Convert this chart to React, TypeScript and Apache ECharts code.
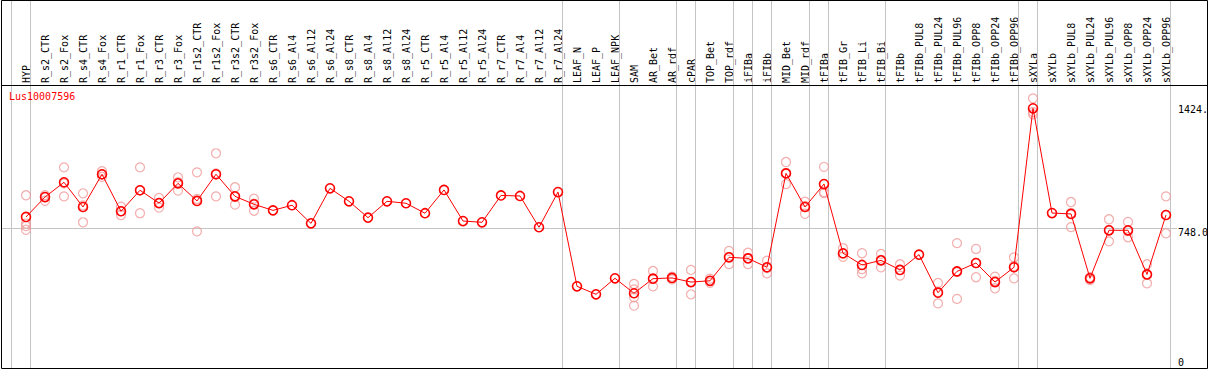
import React, { useEffect, useRef } from "react";
import * as echarts from "echarts";

const geneId = "Lus10007596";

const categories = [
  "HYP", "R_s2_CTR", "R_s2_Fox", "R_s4_CTR", "R_s4_Fox", "R_r1_CTR", "R_r1_Fox",
  "R_r3_CTR", "R_r3_Fox", "R_r1s2_CTR", "R_r1s2_Fox", "R_r3s2_CTR", "R_r3s2_Fox",
  "R_s6_CTR", "R_s6_Al4", "R_s6_Al12", "R_s6_Al24", "R_s8_CTR", "R_s8_Al4",
  "R_s8_Al12", "R_s8_Al24", "R_r5_CTR", "R_r5_Al4", "R_r5_Al12", "R_r5_Al24",
  "R_r7_CTR", "R_r7_Al4", "R_r7_Al12", "R_r7_Al24", "LEAF_N", "LEAF_P", "LEAF_NPK",
  "SAM", "AR_Bet", "AR_rdf", "cPAR", "TOP_Bet", "TOP_rdf", "iFIBa", "iFIBb",
  "MID_Bet", "MID_rdf", "tFIBa", "tFIB_Gr", "tFIB_Li", "tFIB_Bi", "tFIBb",
  "tFIBb_PUL8", "tFIBb_PUL24", "tFIBb_PUL96", "tFIBb_OPP8", "tFIBb_OPP24", "tFIBb_OPP96",
  "sXYLa", "sXYLb", "sXYLb_PUL8", "sXYLb_PUL24", "sXYLb_PUL96", "sXYLb_OPP8",
  "sXYLb_OPP24", "sXYLb_OPP96",
];

const meanValues = [
  813, 925, 1008, 869, 1053, 845, 963, 891, 1002, 903, 1053, 929, 884,
  850, 879, 777, 974, 901, 809, 901, 890, 834, 965, 790, 783, 934, 931, 755, 953,
  423, 378, 468,
  384, 466, 470, 447, 454, 586, 580, 530, 1058, 869, 998, 609, 543, 569,
  515, 601, 387, 507, 554, 447, 530,
  1424, 835, 830, 468, 738, 738, 490, 824,
];

const replicateValues: number[][] = [
  [935, 776, 762, 741], [936, 904, 925], [1092, 929, 1002], [946, 783, 878],
  [1071, 1053, 1039], [871, 824, 846], [1092, 834, 964], [920, 865, 891],
  [1036, 961, 1009], [1064, 732, 914], [1171, 929, 1058], [980, 882, 925],
  [916, 848, 888],
  [], [], [], [], [], [], [], [], [], [], [], [], [], [], [], [],
  [], [], [],
  [436, 406, 361, 314], [509, 423, 464], [477, 462, 470], [515, 378, 447],
  [466, 443, 454], [622, 548, 588], [612, 548, 582], [567, 496, 526],
  [1122, 998, 1060], [899, 831, 875], [1095, 953, 947], [637, 589, 605],
  [609, 520, 496], [605, 530, 571], [547, 483, 515], [],
  [442, 327, 391], [666, 352, 503], [633, 474, 554], [477, 412, 453],
  [586, 468, 537],
  [1480, 1390, 1403], [], [897, 756, 835], [475, 458], [800, 676, 740],
  [785, 699, 734], [547, 440, 487], [929, 721, 824],
];

// index of the last category of each group (-1 = before the first)
const groupEnds = [-1, 0, 28, 31, 34, 35, 37, 38, 39, 41, 42, 45, 52, 53, 60];

const yTickValues = [0, 748, 1424];
const yTickLabels = ["0", "748.0", "1424."];
const referenceLineValue = 748;

const FONT = "'DejaVu Sans Mono', 'Liberation Mono', monospace";

export default function App() {
  const ref = useRef<HTMLDivElement>(null);

  useEffect(() => {
    if (!ref.current) return;
    const chart = echarts.init(ref.current, null, { renderer: "svg" });

    const xMin = -24 / 19;
    const xMax = xMin + 1175 / 19;
    const sepOffset = 4.5 / 19;

    const scatterData: number[][] = [];
    replicateValues.forEach((reps, i) => reps.forEach((v) => scatterData.push([i, v])));

    const labelRich = {
      mid: { fontSize: 10, fontFamily: FONT, color: "#000", lineHeight: 8 },
      edge: { fontSize: 10, fontFamily: FONT, color: "#000", lineHeight: 2 },
    };

    chart.setOption({
      animation: false,
      backgroundColor: "#ffffff",
      title: {
        text: geneId,
        left: 9,
        top: 91,
        padding: 0,
        textStyle: { color: "#ff0000", fontSize: 10, fontWeight: "normal", fontFamily: FONT },
      },
      grid: {
        left: 2,
        top: 0,
        width: 1175,
        height: 369,
        containLabel: false,
        outerBoundsMode: "none",
      },
      xAxis: {
        type: "value",
        position: "top",
        offset: -85,
        min: xMin,
        max: xMax,
        axisLine: { show: false },
        axisTick: { show: false },
        splitLine: { show: false },
        axisLabel: {
          customValues: categories.map((_, i) => i),
          formatter: (v: number) => categories[Math.round(v)] ?? "",
          rotate: 90,
          margin: 2,
          color: "#000",
          fontSize: 10,
          fontFamily: FONT,
          showMinLabel: true,
          showMaxLabel: true,
        },
      },
      yAxis: {
        type: "value",
        position: "right",
        min: -42,
        max: 2033,
        axisLine: { show: false },
        axisTick: { show: false },
        splitLine: { show: false },
        axisLabel: {
          customValues: yTickValues,
          formatter: (v: number) => {
            const idx = yTickValues.indexOf(v);
            const txt = yTickLabels[idx] ?? "";
            const style = v === referenceLineValue ? "mid" : "edge";
            return `{${style}|${txt}}`;
          },
          rich: labelRich,
          verticalAlign: "top",
          align: "left",
          margin: 1,
          color: "#000",
          fontSize: 10,
          fontFamily: FONT,
          showMinLabel: true,
          showMaxLabel: true,
        },
      },
      graphic: [
        {
          type: "rect",
          z: 100,
          silent: true,
          shape: { x: 1.5, y: 0.5, width: 1206, height: 368 },
          style: { fill: "none", stroke: "#000", lineWidth: 1 },
        },
        {
          type: "line",
          z: 100,
          silent: true,
          shape: { x1: 1, y1: 85.5, x2: 1208, y2: 85.5 },
          style: { stroke: "#000", lineWidth: 1 },
        },
      ],
      series: [
        {
          type: "scatter",
          data: scatterData,
          symbol: "circle",
          symbolSize: 9,
          itemStyle: { color: "transparent", borderColor: "#f09898", borderWidth: 1.2 },
          z: 2,
          silent: true,
        },
        {
          type: "line",
          data: meanValues.map((v, i) => [i, v]),
          symbol: "circle",
          symbolSize: 9,
          showAllSymbol: true,
          itemStyle: { color: "transparent", borderColor: "#ff0000", borderWidth: 1.6 },
          lineStyle: { color: "#ff0000", width: 1 },
          z: 3,
          silent: true,
          markLine: {
            silent: true,
            symbol: "none",
            label: { show: false },
            lineStyle: { color: "#c4c4c4", type: "solid", width: 1 },
            z: 1,
            data: [
              ...groupEnds.map((g) => ({ xAxis: g + sepOffset })),
              { yAxis: referenceLineValue },
            ],
          },
        },
      ],
    });

    return () => chart.dispose();
  }, []);

  return (
    <div
      ref={ref}
      style={{ position: "absolute", left: 0, top: 0, width: 1209, height: 370 }}
    />
  );
}
